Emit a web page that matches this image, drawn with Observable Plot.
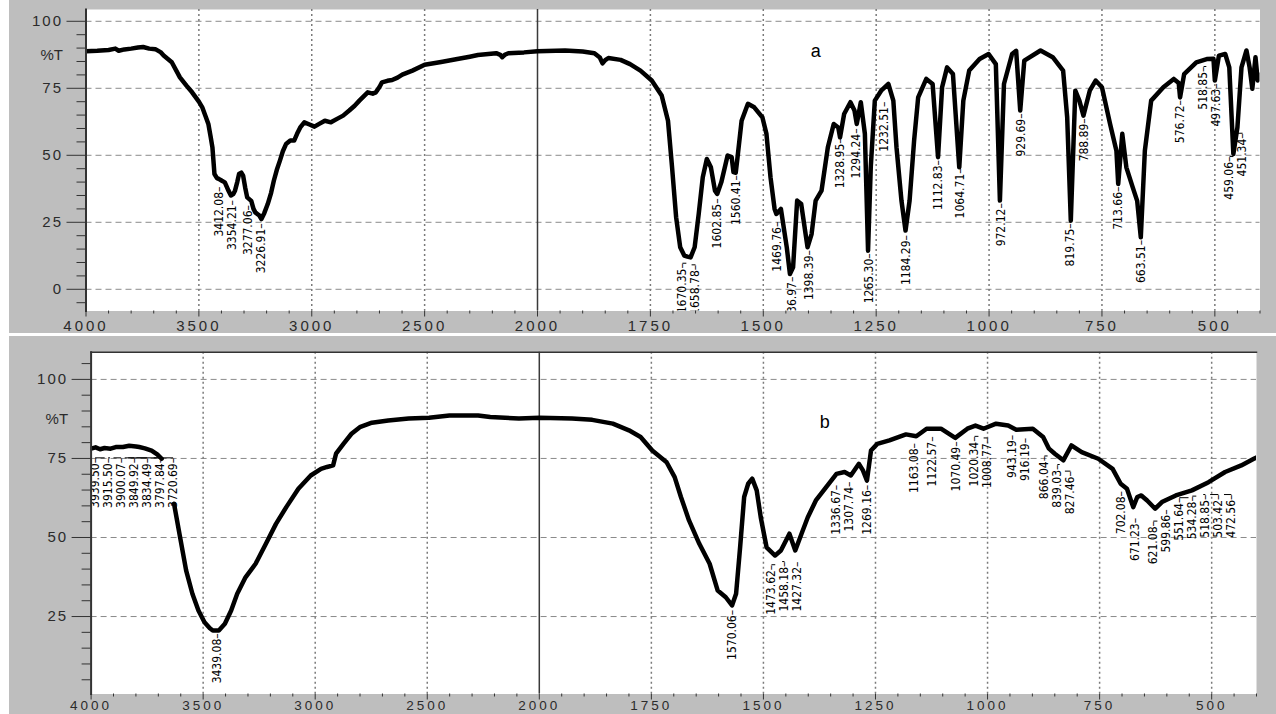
<!DOCTYPE html>
<html><head><meta charset="utf-8">
<script src="https://cdn.jsdelivr.net/npm/d3@7"></script>
<script src="https://cdn.jsdelivr.net/npm/@observablehq/plot@0.6"></script>
<style>
body{margin:0;background:#fff;width:1276px;height:714px;overflow:hidden;position:relative;}
#top{position:absolute;left:9px;top:0;}
#bot{position:absolute;left:9px;top:336px;}
g[aria-label="x-axis tick label"] text{letter-spacing:3px;}
g[aria-label="y-axis tick label"] text{letter-spacing:2px;}
</style></head><body><div id="top"></div><div id="bot"></div>
<script>
// ---------- data ----------
const topWn = [4000,3950,3900,3870,3855,3830,3800,3770,3747,3720,3693,3670,3656,3620,3584,3555,3530,3500,3485,3470,3458,3448,3440,3431,3420,3412,3398,3385,3370,3358,3348,3340,3330,3322,3312,3304,3295,3286,3268,3258,3250,3241,3232,3223,3210,3195,3180,3168,3155,3141,3128,3114,3095,3078,3065,3051,3033,3010,2988,2965,2942,2915,2890,2861,2834,2810,2789,2770,2752,2730,2716,2700,2689,2665,2644,2620,2599,2554,2500,2427,2355,2300,2264,2183,2165,2156,2145,2129,2060,2000,1939,1900,1874,1862,1856,1850,1843,1816,1795,1772,1747,1725,1711,1702,1693,1684,1675,1668,1661,1652,1643,1634,1625,1616,1607,1602,1593,1579,1570,1566,1561,1557,1548,1534,1520,1502,1493,1484,1475,1471,1461,1448,1441,1434,1425,1416,1402,1393,1384,1371,1357,1344,1334,1330,1321,1307,1298,1293,1284,1275,1268,1262,1253,1239,1223,1212,1205,1194,1185,1176,1166,1157,1139,1125,1113,1104,1093,1080,1066,1057,1044,1021,1001,985,976,967,949,940,931,922,886,859,836,827,819,809,800,791,777,764,750,732,718,714,705,696,682,672,664,655,641,614,591,580,577,568,541,518,503,500,491,477,468,459,450,441,430,423,417,410,405,400];
const topT  = [88.8,89.0,89.3,89.8,89.0,89.5,89.8,90.2,90.4,89.8,89.6,88.5,87.2,84.7,79.1,76,73.5,70,67.9,64.5,61.7,57,53,43,41.5,41.2,40.5,39.9,37,35,35.5,36.8,40,43,43.5,42.4,38,34.3,33,30,28.7,28.1,27.5,26.2,28.5,31.8,36,40.5,44.5,48,51.5,54.2,55.5,55.5,58,60.4,62.3,61.5,60.7,61.8,62.9,62.3,63.5,64.8,66.7,68.5,70.4,72,73.5,73,73.5,75.5,77.2,77.8,78.1,79,80.1,81.6,83.8,84.8,85.9,86.8,87.4,88.1,87.5,86.6,87.5,88.1,88.4,88.8,89.1,88.7,88.1,86.5,84.3,85.5,86.3,85.6,84,81.6,77.9,72.3,62.9,45.5,26.9,15.7,12.6,12.2,11.9,15.7,28.1,41.8,48.6,45.5,36.8,35.6,39.9,49.9,49.3,43.7,43.5,49.3,62.9,69.2,67.9,64.2,58,41.8,30,28.1,30,15.7,5.7,8.2,33.1,31.8,15.7,20.6,33.1,36.8,53,61.7,60.4,56.7,65.4,69.8,66.7,61.7,69.8,58,14.4,45.5,70.4,74.1,76.6,70.4,53,33.1,21.9,33.1,55.5,71.6,78.5,76.6,49.3,75.4,82.8,80.3,45.5,70.4,81.6,85.9,87.8,84,33.1,76.6,87.8,89,66.7,85.3,89.1,86.6,81.6,64.2,25.6,74.1,70.4,64.8,74.1,77.9,75.4,61.7,51.7,39.3,58,45.5,38.1,33,19.4,51.7,70.4,75.4,78.5,77,71.6,80.3,84.7,85.9,86,77.9,87.2,87.8,82.8,50.5,60.4,82.8,89.1,82.8,74.8,86.6,77.9,80];

const botWn = [4000,3980,3960,3940,3913,3890,3858,3830,3800,3785,3760,3730,3705,3685,3660,3630,3603,3576,3548,3521,3494,3470,3457,3430,3403,3375,3348,3311,3266,3220,3175,3129,3075,3020,2974,2947,2920,2907,2874,2838,2801,2747,2674,2583,2492,2401,2273,2219,2091,2000,1927,1882,1836,1800,1774,1748,1716,1698,1684,1666,1643,1620,1602,1584,1570,1561,1552,1543,1534,1525,1515,1506,1493,1474,1461,1442,1429,1415,1401,1383,1360,1337,1319,1305,1287,1278,1269,1260,1246,1219,1182,1159,1136,1104,1072,1045,1027,1009,981,954,936,899,876,863,850,831,813,790,753,721,703,689,675,666,657,644,626,611,580,544,507,470,434,406,400];
const botT  = [78.1,78.5,77.9,78.3,78.1,78.6,78.6,79,78.8,78.6,78.2,77.5,76.3,74.9,null,60.7,50.1,39.6,32.2,26.9,23.2,21.3,20.6,20.6,22.7,26.9,32.2,37.4,41.7,48,54.3,59.6,65.4,69.6,71.7,72.3,72.8,76.5,79.6,82.8,84.9,86.3,87,87.6,87.9,88.6,88.6,88.1,87.6,87.9,87.6,87.2,86,83.9,81.8,77.5,73.8,69.1,62.8,55.4,48,41.7,33.2,31.1,28.5,32.2,46.9,62.8,67,68.6,64.9,56.4,46.9,44.3,45.9,51.2,45.9,51.2,56.4,61.7,65.9,70.1,70.7,69.6,73.3,71.2,68,77.5,79.6,80.7,82.6,82,84.4,84.4,81.5,84.4,85.4,84.4,86,85.4,84.1,84.4,81.8,78.1,76.5,74.4,79.1,77,74.9,71.7,67,65.4,59.6,62.8,63.3,61.7,59.1,61.2,63.3,64.9,67.5,70.7,72.8,74.9,75.3];

const topPeakLabels = ["3412.08","3354.21","3277.06","3226.91","1670.35","1658.78","1602.85","1560.41","1469.76","1436.97","1398.39","1328.95","1294.24","1265.30","1232.51","1184.29","1112.83","1064.71","972.12","929.69","819.75","788.89","713.66","663.51","576.72","518.85","497.63","459.06","451.34"];
const topPeakT = [38.7,33.7,31.8,25.0,10.1,9.5,34.3,43,25.6,5.1,15,56.7,60.4,13.8,70.4,20.6,48.6,45.5,32.5,66,25,64.2,38.7,18.8,71,83.5,77.2,49.9,58.6];

const botPeakLabels = ["3939.50","3915.50","3900.07","3849.92","3834.49","3797.84","3720.69","3439.08","1570.06","1473.62","1458.18","1427.32","1336.67","1307.74","1269.16","1163.08","1122.57","1070.49","1020.34","1008.77","943.19","916.19","866.04","839.03","827.46","702.08","671.23","621.08","599.86","551.64","534.28","518.85","503.42","472.56"];
const botPeakT = [75.5,75.5,75.5,75.5,75.5,75.5,75.5,20,27.4,41.7,42.7,42.7,67,68,67,80.2,82.3,80.7,82.3,81.8,82.8,81.8,76.1,73.4,71.3,65,56.5,55.5,59.2,62.9,63.4,63.9,63.9,63.9];

const xBreaks = [4000, 2000, 400];
const xMajorTicks = [4000,3500,3000,2500,2000,1750,1500,1250,1000,750,500];
const xMinorTicks = [3900,3800,3700,3600,3400,3300,3200,3100,2900,2800,2700,2600,2400,2300,2200,2100,1950,1900,1850,1800,1700,1650,1600,1550,1450,1400,1350,1300,1200,1150,1100,1050,950,900,850,800,700,650,600,550,450,400];
const xGridTicks = [3500,3000,2500,1750,1500,1250,1000,750,500];
const topYMajor = [0,25,50,75,100];
const topYMinor = [-5,5,10,15,20,30,35,40,45,55,60,65,70,80,85,90,95];
const botYMajor = [25,50,75,100];
const botYMinor = [5,10,15,20,30,35,40,45,55,60,65,70,80,85,90,95,105];
const yUnitLabel = "%T";
const panelLetters = [{t:"a", x:1384, y:89}, {t:"b", x:1363, y:86.5}];

// ---------- drawing ----------
const GRAY = "#bebebe";
const labelFont = "'Liberation Sans Narrow','DejaVu Sans Condensed','Arial Narrow',sans-serif";

function panel(o) {
  const W = 1267;
  const xs = d3.scaleLinear().domain(xBreaks).range(o.xRange);
  const items = o.peakLabels.map((l, i) => ({label: l, wn: +l, T: o.peakT[i], px: xs(+l)}))
    .sort((a, b) => a.px - b.px);
  const gap = 13;
  for (let it = 0; it < 80; it++) {
    for (let i = 1; i < items.length; i++) {
      const d = items[i].px - items[i - 1].px;
      if (d < gap) { const s = (gap - d) / 2; items[i].px += s; items[i - 1].px -= s; }
    }
  }
  // keep the left-most labels inside the frame, pushing neighbours right
  const minPx = o.xRange[0] + 4;
  for (let i = 0; i < items.length; i++) {
    const lo = i === 0 ? minPx : items[i - 1].px + gap;
    if (items[i].px < lo) items[i].px = lo;
  }
  items.forEach(d => { d.lx = xs.invert(d.px); d.shift = Math.abs(d.px - xs(d.wn)); });
  const curve = o.wn.map((w, i) => ({w, t: o.T[i]}));

  return Plot.plot({
    width: W, height: o.height,
    marginLeft: o.margins[0], marginRight: o.margins[1], marginTop: o.margins[2], marginBottom: o.margins[3],
    style: {background: GRAY, fontFamily: "'Liberation Sans',Arial,sans-serif", color: "#2b2b2b", overflow: "hidden"},
    x: {type: "linear", domain: xBreaks, range: o.xRange, axis: null},
    y: {domain: o.yDomain, axis: null},
    marks: [
      Plot.frame({fill: "white", stroke: null}),
      Plot.gridY(o.yMajor, {stroke: "#8a8a8a", strokeOpacity: 1, strokeDasharray: "6,4"}),
      Plot.gridX(xGridTicks, {stroke: "#7a7a7a", strokeOpacity: 1, strokeWidth: 1.5, strokeDasharray: "2,3"}),
      Plot.ruleX([2000], {stroke: "#3a3a3a", strokeWidth: 1.5}),
      Plot.line(curve, {x: "w", y: "t", stroke: "black", strokeWidth: 4.5, strokeLinejoin: "round", clip: true}),
      Plot.link(items.filter(d => d.shift > 1.5), {x1: "wn", y1: "T", x2: "lx", y2: "T", stroke: "black", strokeWidth: 1, dy: 1, clip: true}),
      Plot.text(items, {x: "lx", y: "T", text: d => d.label + "\u2013", rotate: -90, textAnchor: "end", dy: 1,
        fontSize: 12, fontFamily: labelFont, fill: "black", clip: true}),
      Plot.text([o.letter], {x: "x", y: "y", text: "t", fontSize: 18, fill: "black"}),
      Plot.frame({anchor: "left", stroke: "#333", strokeWidth: 2}),
      ...(o.topLine ? [Plot.frame({anchor: "top", stroke: "#333", strokeWidth: 1.5})] : []),
      Plot.axisY(o.yMajor, {anchor: "left", tickSize: 19, tickPadding: 4, fontSize: 15, label: null, tickFormat: d => String(d), stroke: "#333"}),
      Plot.axisY(o.yMinor, {anchor: "left", tickSize: 9, label: null, tickFormat: () => "", stroke: "#333"}),
      Plot.text([{t: yUnitLabel, y: 87.5}], {y: "y", text: "t", frameAnchor: "left", dx: -23, textAnchor: "end", fontSize: 15, fill: "#2b2b2b"}),
      Plot.axisX(xMajorTicks, {anchor: "bottom", tickSize: 6, tickPadding: o.xPad, fontSize: o.xFont, label: null, tickFormat: d => String(d), stroke: "#333"}),
      Plot.axisX(xMinorTicks, {anchor: "bottom", tickSize: 3, label: null, tickFormat: () => "", stroke: "#333"})
    ]
  });
}

document.getElementById("top").append(panel({
  wn: topWn, T: topT, peakLabels: topPeakLabels, peakT: topPeakT,
  height: 333, margins: [76.5, 16.5, 9, 22.5], xRange: [76.5, 528, 1250.5],
  yDomain: [-8.1, 104.4], yMajor: topYMajor, yMinor: topYMinor, letter: panelLetters[0], topLine: false,
  xPad: 3, xFont: 15
}));
document.getElementById("bot").append(panel({
  wn: botWn, T: botT, peakLabels: botPeakLabels, peakT: botPeakT,
  height: 378, margins: [81.6, 20, 15.7, 20.5], xRange: [81.6, 529.8, 1247],
  yDomain: [0.5, 108.6], yMajor: botYMajor, yMinor: botYMinor, letter: panelLetters[1], topLine: true,
  xPad: 0, xFont: 13.5
}));
</script></body></html>
